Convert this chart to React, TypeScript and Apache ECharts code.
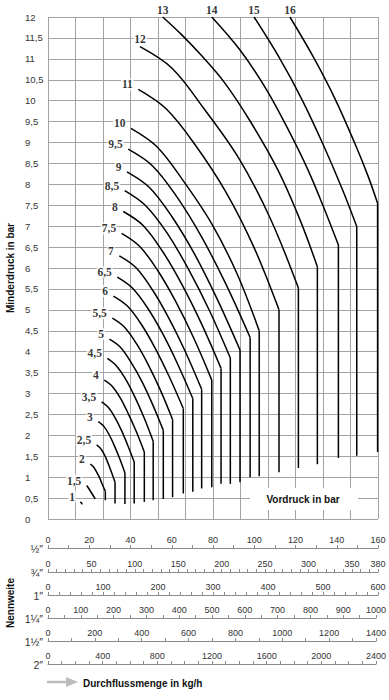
import React, { useEffect, useRef } from "react";
import * as echarts from "echarts";

// Vordruck (inlet pressure) curve names
const curveLabels = ["1","1,5","2","2,5","3","3,5","4","4,5","5","5,5","6","6,5","7","7,5","8","8,5","9","9,5","10","11","12","13","14","15","16"];

// [flow kg/h (1/2" scale), Minderdruck bar], arc part ending at the kink
const c1 = [[15.7,0.41],[16.7,0.35]];
const c1_5 = [[18.8,0.80],[20.9,0.64],[22.9,0.48]];
const c2 = [[20.5,1.31],[22.0,1.25],[23.4,1.14],[24.9,1.0],[26.3,0.83],[27.8,0.66]];
const c2_5 = [[23.6,1.77],[25.4,1.69],[27.2,1.55],[28.9,1.36],[30.7,1.13],[32.5,0.88]];
const c3 = [[24.4,2.33],[27.0,2.22],[29.6,2.02],[32.1,1.76],[34.7,1.45],[37.3,1.10]];
const c3_5 = [[26.0,2.80],[29.2,2.67],[32.3,2.44],[35.5,2.13],[38.6,1.77],[41.8,1.36]];
const c4 = [[27.3,3.32],[31.2,3.17],[35.1,2.89],[38.9,2.52],[42.8,2.09],[46.7,1.60]];
const c4_5 = [[28.8,3.84],[33.2,3.66],[37.7,3.34],[42.1,2.92],[46.6,2.42],[51.0,1.86]];
const c5 = [[29.8,4.30],[35.0,4.11],[40.2,3.75],[45.5,3.29],[50.7,2.74],[55.9,2.12]];
const c5_5 = [[31.2,4.80],[37.0,4.59],[42.9,4.19],[48.7,3.68],[54.6,3.07],[60.4,2.38]];
const c6 = [[31.7,5.33],[38.5,5.09],[45.3,4.65],[52.0,4.08],[58.8,3.40],[65.6,2.64]];
const c6_5 = [[33.6,5.78],[40.9,5.52],[48.2,5.05],[55.6,4.43],[62.9,3.70],[70.2,2.88]];
const c7 = [[34.6,6.29],[42.6,6.01],[50.6,5.48],[58.5,4.81],[66.5,4.01],[74.5,3.10]];
const c7_5 = [[35.7,6.83],[44.4,6.52],[53.2,5.94],[61.9,5.20],[70.7,4.32],[79.4,3.32]];
const c8 = [[36.5,7.35],[46.0,7.02],[55.5,6.40],[64.9,5.61],[74.4,4.67],[83.9,3.60]];
const c8_5 = [[37.2,7.85],[47.4,7.49],[57.7,6.84],[67.9,5.99],[78.2,4.99],[88.4,3.85]];
const c9 = [[38.3,8.30],[49.3,7.92],[60.2,7.22],[71.2,6.32],[82.1,5.25],[93.1,4.04]];
const c9_5 = [[38.9,8.84],[50.7,8.44],[62.5,7.70],[74.4,6.75],[86.2,5.62],[98.0,4.34]];
const c10 = [[40.2,9.34],[52.6,8.91],[65.1,8.12],[79.0,7.09],[91.5,5.88],[102.4,4.50]];
const c11 = [[43.8,10.27],[57.4,9.80],[71.4,8.94],[86.2,7.82],[99.8,6.50],[112.0,5.0]];
const c12 = [[44.6,11.29],[60.0,10.78],[75.3,9.83],[92.7,8.61],[108.0,7.16],[121.4,5.52]];
const c13 = [[55.6,12],[64.5,11.59],[74.2,11.09],[85.3,10.45],[97.9,9.52],[111.5,8.34],[122.2,7.15],[130.6,6.03]];
const c14 = [[79.4,12],[93.1,11.21],[106.0,10.26],[117.3,9.23],[126.1,8.34],[133.5,7.47],[140.8,6.55]];
const c15 = [[99.9,12],[112.0,11.04],[123.2,10.02],[133.5,8.94],[142.8,7.87],[149.7,6.99]];
const c16 = [[117.3,12],[128.7,11.04],[139.4,10.02],[149.1,8.94],[155.0,8.22],[159.8,7.55]];

const curveArcs = [c1,c1_5,c2,c2_5,c3,c3_5,c4,c4_5,c5,c5_5,c6,c6_5,c7,c7_5,c8,c8_5,c9,c9_5,c10,c11,c12,c13,c14,c15,c16];

// lower end (bar) of the vertical (choked) part of each curve
const chokeBottoms = [null,null,0.45,0.37,0.36,0.37,0.41,0.45,0.48,0.52,0.61,0.65,0.73,0.76,0.84,0.84,0.88,1.0,1.02,1.12,1.22,1.31,1.46,1.51,1.6];

// Nennweite scales
const nominalSizes = ["½″","¾″","1″","1¼″","1½″","2″"];
const flowMax = [160,380,600,1000,1400,2400];
const flowTickStep = [10,10,20,50,100,100];
const flowLabelStep = [20,50,100,100,200,400];

const pressureMax = 12;
const pressureStep = 0.5;

const SANS = "Liberation Sans, Arial, sans-serif";
const SERIF = "Liberation Serif, Times New Roman, serif";
const GRID = "#a3a3a3";
const rowTops = [548,572,595,618,641,664];

export default function App() {
  const ref = useRef<HTMLDivElement>(null);
  useEffect(() => {
    if (!ref.current) return;
    const chart = echarts.init(ref.current, null, { renderer: "svg" });

    const grids: any[] = [{ left: 48, right: 11, top: 17, height: 502 }];
    const xAxes: any[] = [
      { gridIndex: 0, type: "value", min: 0, max: flowMax[0], show: false },
      {
        gridIndex: 0, type: "value", min: 0, max: 12, interval: 1, position: "top",
        axisLine: { show: false }, axisTick: { show: false }, axisLabel: { show: false },
        splitLine: { show: true, lineStyle: { color: GRID, width: 1 } },
      },
    ];
    const yAxes: any[] = [
      {
        gridIndex: 0, type: "value", min: 0, max: pressureMax, interval: pressureStep,
        axisLine: { show: false }, axisTick: { show: false },
        axisLabel: {
          align: "left", margin: 23, fontSize: 9.5, fontFamily: SANS, color: "#333",
          formatter: (v: number) => String(v).replace(".", ","),
        },
        splitLine: { show: true, lineStyle: { color: GRID, width: 1 } },
      },
    ];

    nominalSizes.forEach((name, i) => {
      grids.push({ left: 48, right: 11, top: rowTops[i], height: 1 });
      xAxes.push({
        gridIndex: i + 1, type: "value", min: 0, max: flowMax[i], interval: flowTickStep[i], position: "top",
        axisLine: { show: true, lineStyle: { color: "#8c8c8c", width: 1 } },
        axisTick: { show: true, length: 3, lineStyle: { color: "#8c8c8c" } },
        axisLabel: {
          margin: 4, fontSize: 9, fontFamily: SANS, color: "#333",
          showMinLabel: true, showMaxLabel: true,
          formatter: (v: number) => (v % flowLabelStep[i] === 0 || v === flowMax[i] ? String(v) : ""),
        },
        splitLine: { show: false },
      });
      yAxes.push({
        gridIndex: i + 1, type: "category", data: [name],
        axisLine: { show: false }, axisTick: { show: false }, splitLine: { show: false },
        axisLabel: { margin: 5, fontSize: 10.5, fontFamily: SANS, color: "#333", padding: [0, 0, 7, 0] },
      });
    });

    const series: any[] = [];
    curveArcs.forEach((arc, i) => {
      series.push({
        type: "line", xAxisIndex: 0, yAxisIndex: 0, data: arc, smooth: 0.35,
        symbol: "none", lineStyle: { color: "#000", width: 1.5 }, silent: true, z: 3,
      });
      const b = chokeBottoms[i];
      if (b !== null) {
        const k = arc[arc.length - 1];
        series.push({
          type: "line", xAxisIndex: 0, yAxisIndex: 0, data: [k, [k[0], b]],
          symbol: "none", lineStyle: { color: "#000", width: 1.5 }, silent: true, z: 3,
        });
      }
    });
    series.push({
      type: "scatter", xAxisIndex: 0, yAxisIndex: 0, symbolSize: 1, silent: true, z: 5,
      itemStyle: { color: "transparent" },
      data: curveArcs.map((arc, i) => ({
        value: arc[0],
        label: {
          show: true, formatter: curveLabels[i],
          position: i >= 20 ? "top" : "left",
          distance: i >= 20 ? 1 : 4,
          offset: i >= 20 ? [0, 0] : [0, -5],
        },
      })),
      label: {
        fontFamily: SERIF, fontWeight: "bold", fontSize: 11.5, color: "#000",
        backgroundColor: "#fff", padding: [0, 1],
      },
    });

    const boldText = (text: string, x: number, y: number, rot: number, align: string) => ({
      type: "text", x, y, rotation: rot, z: 100,
      style: {
        text, align, verticalAlign: "middle", fill: "#111",
        fontFamily: SANS, fontWeight: "bold", fontSize: 10,
      },
    });

    chart.setOption({
      animation: false,
      backgroundColor: "#fff",
      grid: grids,
      xAxis: xAxes,
      yAxis: yAxes,
      series,
      graphic: [
        { type: "rect", z: 99, shape: { x: 250, y: 488, width: 108, height: 22 }, style: { fill: "#fff" } },
        boldText("Vordruck in bar", 303, 499, 0, "center"),
        boldText("Minderdruck in bar", 10, 268, Math.PI / 2, "center"),
        boldText("Nennweite", 10, 603, Math.PI / 2, "center"),
        boldText("Durchflussmenge in kg/h", 83, 683, 0, "left"),
        { type: "line", z: 100, shape: { x1: 47, y1: 682, x2: 68, y2: 682 }, style: { stroke: "#bdbdbd", lineWidth: 2.5 } },
        { type: "polygon", z: 100, shape: { points: [[66, 677], [78, 682], [66, 687]] }, style: { fill: "#bdbdbd" } },
      ],
    });
    return () => chart.dispose();
  }, []);
  return <div ref={ref} style={{ position: "absolute", left: 0, top: 0, width: 389, height: 700 }} />;
}
